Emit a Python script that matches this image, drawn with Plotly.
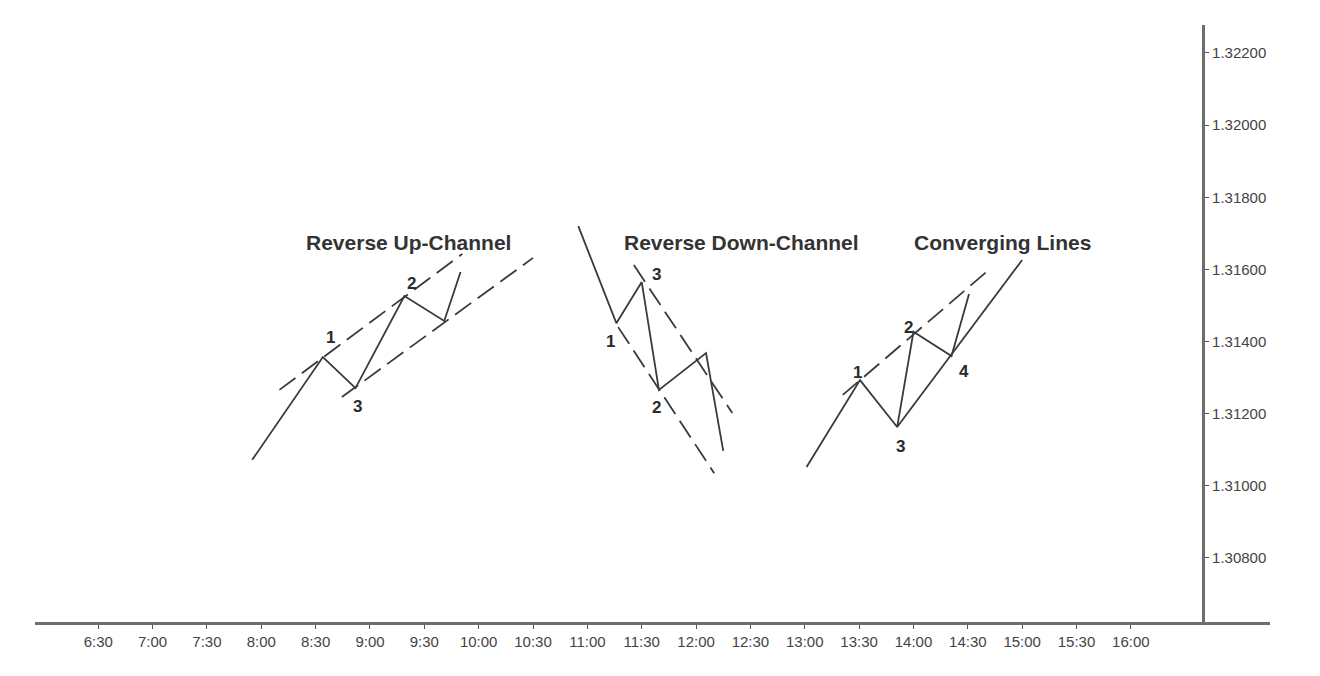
import plotly.graph_objects as go

DAY = "2024-01-01"

# Reverse Up-Channel
up_times = ["07:55", "08:34", "08:52", "09:19", "09:41", "09:50"]
up_prices = [1.31072, 1.31357, 1.31271, 1.31526, 1.31457, 1.31593]
up_top_times = ["08:10", "09:51"]
up_top_prices = [1.31266, 1.31643]
up_bot_times = ["08:44:30", "10:30"]
up_bot_prices = [1.31246, 1.31632]

# Reverse Down-Channel
down_times = ["10:55", "11:16", "11:30", "11:39:30", "12:05:30", "12:15"]
down_prices = [1.31720, 1.31451, 1.31565, 1.31266, 1.31368, 1.31097]
down_low_times = ["11:17", "12:10"]
down_low_prices = [1.31440, 1.31035]
down_up_times = ["11:25:40", "12:20"]
down_up_prices = [1.31612, 1.31202]

# Converging Lines
conv_times = ["13:01", "13:30:30", "13:51", "14:00", "14:21", "14:30:40"]
conv_prices = [1.31052, 1.31293, 1.31163, 1.31427, 1.31360, 1.31532]
conv_sup_times = ["13:51", "15:00"]
conv_sup_prices = [1.31163, 1.31626]
conv_res_times = ["13:21", "14:41"]
conv_res_prices = [1.31252, 1.31596]

# point numbers
num_text = ["1", "3", "2", "1", "3", "2", "1", "2", "3", "4"]
num_times = ["08:38", "08:53", "09:23", "11:13", "11:38", "11:38",
             "13:29", "13:57", "13:53", "14:28"]
num_prices = [1.31410, 1.31219, 1.31562, 1.31399, 1.31587, 1.31216,
              1.31313, 1.31440, 1.31108, 1.31316]

titles = ["Reverse Up-Channel", "Reverse Down-Channel", "Converging Lines"]
title_times = ["09:21", "12:25", "14:49"]
title_price = 1.31676

tick_labels = ["6:30", "7:00", "7:30", "8:00", "8:30", "9:00", "9:30", "10:00",
               "10:30", "11:00", "11:30", "12:00", "12:30", "13:00", "13:30",
               "14:00", "14:30", "15:00", "15:30", "16:00"]
price_ticks = [1.308, 1.310, 1.312, 1.314, 1.316, 1.318, 1.320, 1.322]


def ts(times):
    return [f"{DAY} {t.zfill(5)}" for t in times]


solid = dict(color="#3a3a3a", width=1.8)
dashed = dict(color="#3a3a3a", width=1.8, dash="20px,8px")

fig = go.Figure()
for xs, ys, ln in [
    (up_times, up_prices, solid),
    (up_top_times, up_top_prices, dashed),
    (up_bot_times, up_bot_prices, dashed),
    (down_times, down_prices, solid),
    (down_low_times, down_low_prices, dashed),
    (down_up_times, down_up_prices, dashed),
    (conv_times, conv_prices, solid),
    (conv_sup_times, conv_sup_prices, solid),
    (conv_res_times, conv_res_prices, dashed),
]:
    fig.add_trace(go.Scatter(x=ts(xs), y=ys, mode="lines", line=ln,
                             showlegend=False, hoverinfo="skip"))

for t, p, s in zip(num_times, num_prices, num_text):
    fig.add_annotation(x=ts([t])[0], y=p, text=f"<b>{s}</b>", showarrow=False,
                       font=dict(size=17, color="#2a2a2a"))

for t, s in zip(title_times, titles):
    fig.add_annotation(x=ts([t])[0], y=title_price, text=f"<b>{s}</b>",
                       showarrow=False, font=dict(size=21, color="#333333"))

# page body has an 8px margin, so the margins are shifted to compensate
fig.update_layout(
    width=1320, height=676,
    margin=dict(l=27, r=58, t=17, b=62),
    paper_bgcolor="white", plot_bgcolor="white",
    font=dict(family="Liberation Sans, Arial, sans-serif", color="#444444"),
    xaxis=dict(
        range=[f"{DAY} 05:55:06", f"{DAY} 17:16:48"],
        tickvals=ts(tick_labels), ticktext=tick_labels,
        showgrid=False, zeroline=False,
        showline=True, linecolor="#6e6e6e", linewidth=2.5,
        ticks="outside", ticklen=4, tickcolor="#555555",
        tickfont=dict(size=15, color="#444444"),
    ),
    yaxis=dict(
        range=[1.306225, 1.322776],
        tickvals=price_ticks, tickformat=".5f",
        showgrid=False, zeroline=False,
        showline=True, linecolor="#6e6e6e", linewidth=2.5,
        side="right", anchor="free", position=0.946,
        ticks="outside", ticklen=4, tickcolor="#555555",
        tickfont=dict(size=15, color="#444444"),
    ),
)

fig.write_html("out.html")
